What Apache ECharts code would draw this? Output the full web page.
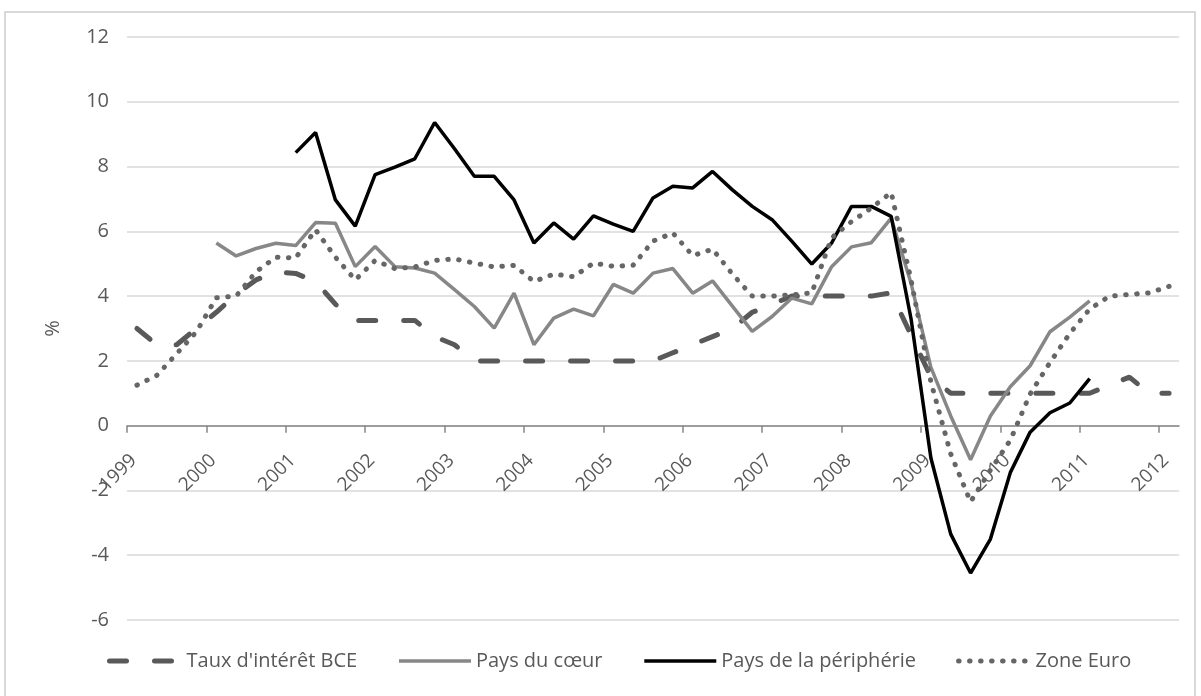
<!DOCTYPE html>
<html>
<head>
<meta charset="utf-8">
<title>Taux</title>
<script src="https://cdn.jsdelivr.net/npm/echarts@6/dist/echarts.min.js"></script>
<style>
  html, body { margin: 0; padding: 0; background: #fff; }
  #chart { width: 1201px; height: 696px; }
</style>
</head>
<body>
<div id="chart"></div>
<script>
  // années affichées sur l'axe, données trimestrielles (1999T1 -> 2012T1)
  var years = [1999, 2000, 2001, 2002, 2003, 2004, 2005, 2006, 2007, 2008, 2009, 2010, 2011, 2012];
  var quarters = [];
  years.forEach(function (y) {
    [1, 2, 3, 4].forEach(function (q) { quarters.push({ year: y, q: q }); });
  });
  quarters = quarters.slice(0, 53);

  var yTicks = [-6, -4, -2, 0, 2, 4, 6, 8, 10, 12];

  var tauxBCE = [3.0, 2.5, 2.5, 3.0, 3.5, 4.05, 4.5, 4.75, 4.7, 4.45,
    3.75, 3.25, 3.25, 3.25, 3.25, 2.75, 2.5, 2.0, 2.0, 2.0,
    2.0, 2.0, 2.0, 2.0, 2.0, 2.0, 2.0, 2.25, 2.5, 2.75,
    3.0, 3.5, 3.75, 4.0, 4.0, 4.0, 4.0, 4.0, 4.1, 2.8,
    1.5, 1.0, 1.0, 1.0, 1.0, 1.0, 1.0, 1.0, 1.0, 1.25,
    1.5, 1.0, 1.0];

  var paysCoeur = [null, null, null, null, 5.64, 5.24, 5.47, 5.63, 5.56, 6.27,
    6.25, 4.91, 5.53, 4.91, 4.87, 4.71, 4.2, 3.68, 3.01, 4.09,
    2.5, 3.32, 3.6, 3.39, 4.36, 4.09, 4.71, 4.85, 4.09, 4.47,
    3.69, 2.91, 3.37, 3.94, 3.76, 4.91, 5.52, 5.65, 6.41, 4.4,
    1.8, 0.3, -1.05, 0.3, 1.2, 1.85, 2.9, 3.35, 3.85, null,
    null, null, null];

  var paysPeripherie = [null, null, null, null, null, null, null, null, 8.43, 9.05,
    6.97, 6.16, 7.75, 7.98, 8.24, 9.36, 8.55, 7.7, 7.7, 6.97,
    5.64, 6.26, 5.76, 6.48, 6.22, 6.0, 7.03, 7.39, 7.34, 7.85,
    7.28, 6.77, 6.36, 5.69, 4.99, 5.64, 6.77, 6.77, 6.46, 3.3,
    -1.0, -3.35, -4.55, -3.5, -1.45, -0.2, 0.4, 0.7, 1.45, null,
    null, null, null];

  var zoneEuro = [1.25, 1.55, 2.22, 2.9, 3.95, 4.0, 4.75, 5.2, 5.18, 6.05,
    5.2, 4.5, 5.1, 4.85, 4.9, 5.1, 5.15, 5.02, 4.9, 4.95,
    4.45, 4.68, 4.6, 5.02, 4.92, 4.95, 5.7, 5.95, 5.25, 5.45,
    4.68, 4.0, 4.0, 4.04, 4.1, 5.8, 6.3, 6.72, 7.2, 4.5,
    1.35, -0.87, -2.35, -1.37, -0.45, 0.98, 1.95, 2.85, 3.6, 4.0,
    4.05, 4.1, 4.3];

  // chaque trimestre est placé au milieu de sa période
  function toPoints(values) {
    return values.map(function (v, i) {
      var p = quarters[i];
      return [p.year + (p.q - 0.5) / 4, v];
    });
  }

  var font = 'Open Sans';
  var gridTop = 37, gridBottom = 76, chartHeight = 696;
  // l'axe des x est tracé sur la ligne du zéro
  var plotH = chartHeight - gridTop - gridBottom;
  var zeroOffset = -plotH * (0 - yTicks[0]) / (yTicks[yTicks.length - 1] - yTicks[0]);

  var chart = echarts.init(document.getElementById('chart'));

  chart.setOption({
    animation: false,
    textStyle: { fontFamily: font },
    graphic: [{
      type: 'rect',
      shape: { x: 5, y: 12, width: 1190, height: 700 },
      style: { fill: 'none', stroke: '#d9d9d9', lineWidth: 2 },
      silent: true
    }],
    grid: { left: 127, right: 22, top: gridTop, bottom: gridBottom },
    legend: {
      top: 646,
      left: 102,
      itemWidth: 72,
      itemHeight: 14,
      itemGap: 40,
      itemStyle: { opacity: 0 },
      lineStyle: { width: 'inherit' },
      textStyle: { fontSize: 20, color: '#595959', fontFamily: font }
    },
    xAxis: {
      type: 'value',
      position: 'bottom',
      offset: zeroOffset,
      min: years[0],
      max: years[years.length - 1] + 0.25,
      interval: 1,
      axisLine: { onZero: false, lineStyle: { color: '#868686', width: 1.5 } },
      axisTick: { show: true, length: 7, customValues: years, lineStyle: { color: '#868686', width: 1.5 } },
      axisLabel: {
        customValues: years,
        rotate: 45,
        margin: 25,
        verticalAlign: 'top',
        fontSize: 19,
        color: '#595959',
        formatter: function (v) { return String(v); }
      },
      splitLine: { show: false }
    },
    yAxis: {
      type: 'value',
      min: yTicks[0],
      max: yTicks[yTicks.length - 1],
      interval: 2,
      name: '%',
      nameLocation: 'middle',
      nameGap: 64,
      nameTextStyle: { fontSize: 20, color: '#595959' },
      axisLine: { show: false },
      axisTick: { show: false },
      axisLabel: { fontSize: 20, color: '#595959', margin: 18 },
      splitLine: { lineStyle: { color: '#d9d9d9', width: 1.5 } }
    },
    series: [
      {
        name: "Taux d'intérêt BCE",
        type: 'line',
        data: toPoints(tauxBCE),
        showSymbol: false,
        symbol: 'none',
        z: 2,
        lineStyle: { color: '#595959', width: 5, type: [17, 28], cap: 'round' },
        itemStyle: { color: '#595959' }
      },
      {
        name: 'Pays du cœur',
        type: 'line',
        data: toPoints(paysCoeur),
        showSymbol: false,
        symbol: 'none',
        z: 3,
        lineStyle: { color: '#878787', width: 3.5 },
        itemStyle: { color: '#878787' }
      },
      {
        name: 'Pays de la périphérie',
        type: 'line',
        data: toPoints(paysPeripherie),
        showSymbol: false,
        symbol: 'none',
        z: 4,
        lineStyle: { color: '#000000', width: 3.5 },
        itemStyle: { color: '#000000' }
      },
      {
        name: 'Zone Euro',
        type: 'line',
        data: toPoints(zoneEuro),
        showSymbol: false,
        symbol: 'none',
        z: 5,
        lineStyle: { color: '#666666', width: 5, type: [0.5, 10.5], cap: 'round' },
        itemStyle: { color: '#666666' }
      }
    ]
  });
</script>
</body>
</html>
